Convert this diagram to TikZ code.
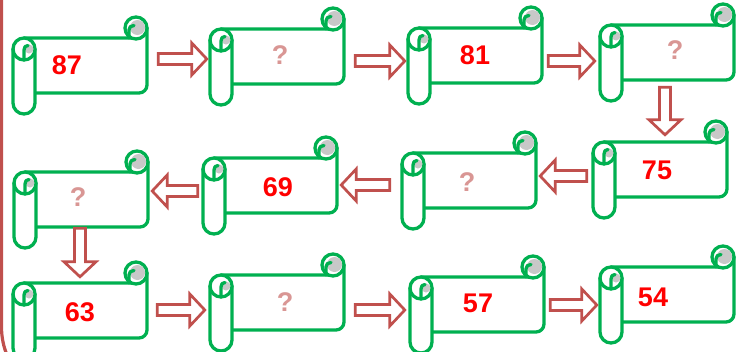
\documentclass[tikz,border=0pt]{standalone}
\usepackage{fontspec}
\setmainfont{Liberation Sans}
\usepackage{tikz}
\usetikzlibrary{calc}
\usepackage{xcolor}
\definecolor{scrollgreen}{RGB}{0,176,80}
\definecolor{scrollgray}{RGB}{200,200,200}
\definecolor{arrowred}{RGB}{192,80,77}
\definecolor{numred}{RGB}{255,0,0}
\definecolor{askpink}{RGB}{217,150,148}

\tikzset{blockarrow/.style={draw=arrowred, line width=2.7pt, fill=white, line join=miter,
  to path={let \p1=($(\tikztotarget)-(\tikztostart)$), \n1={atan2(\y1,\x1)}, \n2={veclen(\x1,\y1)} in
    ($(\tikztostart)+(\n1+90:5.5pt)$) -- ($(\tikztostart)+(\n1:\n2-15pt)+(\n1+90:5.5pt)$)
    -- ($(\tikztostart)+(\n1:\n2-15pt)+(\n1+90:16pt)$) -- (\tikztotarget)
    -- ($(\tikztostart)+(\n1:\n2-15pt)+(\n1-90:16pt)$) -- ($(\tikztostart)+(\n1:\n2-15pt)+(\n1-90:5.5pt)$)
    -- ($(\tikztostart)+(\n1-90:5.5pt)$) -- cycle}}}

% scroll: name, left, top
\newcommand{\scrollbox}[3]{%
  \begin{scope}[shift={(#2,#3)}]
    \draw[scroll, fill=white] (11,0) -- (123,0) -- (134,-10) -- (134,47)
      .. controls (134,51.4) and (130.4,55) .. (126,55) -- (11,55) -- cycle;
    \draw[scroll, fill=white] (123,-10) circle (11);
    \fill[scrollgray] (124.5,-10.5) circle (7.5);
    \draw[scroll] (116,0) -- (116,-8) .. controls (116,-11) and (118,-12.5) .. (121,-12.5);
    \draw[scroll, fill=white, rounded corners=11pt] (0,0) rectangle (22,76);
    \draw[scroll] (0,11) .. controls (0,17.1) and (4.9,22) .. (11,22) .. controls (17.1,22) and (22,17.1) .. (22,11);
    \fill[scrollgray] (16,11) circle (4.5);
    \draw[scroll] (11,22) -- (11,12) .. controls (11,9) and (12.5,7.5) .. (15,7.5);
    \node[inner sep=0, minimum width=134pt, minimum height=55pt] (#1) at (67,27.5) {};
  \end{scope}}

\begin{document}
\begin{tikzpicture}[x=1pt, y=-1pt]

  \tikzstyle{scroll}=[draw=scrollgreen, line width=3.3pt, line join=round, line cap=round]
  \tikzstyle{num}=[font=\fontsize{27}{30}\selectfont\bfseries, text=numred, inner sep=0]
  \tikzstyle{ask}=[font=\fontsize{27}{30}\selectfont\bfseries, text=askpink, inner sep=0]

  \useasboundingbox (0,0) rectangle (739,351);
  \clip (0,0) rectangle (739,351);

  % frame on the left
  \draw[arrowred, line width=3.2pt, rounded corners=74pt] (1.5,-5) -- (1.5,401) -- (300,401);

  \scrollbox{s1}{13}{38}
  \scrollbox{s2}{210}{29}
  \scrollbox{s3}{408}{28}
  \scrollbox{s4}{600}{25}
  \scrollbox{s5}{14}{172}
  \scrollbox{s6}{203}{158}
  \scrollbox{s7}{402}{153}
  \scrollbox{s8}{593}{142}
  \scrollbox{s9}{13}{283}
  \scrollbox{s10}{210}{275}
  \scrollbox{s11}{410}{277}
  \scrollbox{s12}{600}{267}

  \node[num] (t1) at (67,65) {87};
  \node[ask] (t2) at (280,55) {?};
  \node[num] (t3) at (475,55) {81};
  \node[ask] (t4) at (675,50) {?};
  \node[ask] (t5) at (78,197) {?};
  \node[num] (t6) at (278,187) {69};
  \node[ask] (t7) at (467,182) {?};
  \node[num] (t8) at (657,170) {75};
  \node[num] (t9) at (80,312) {63};
  \node[ask] (t10) at (285,302) {?};
  \node[num] (t11) at (478,303) {57};
  \node[num] (t12) at (653,297) {54};

  % arrows
  \draw[blockarrow] ([shift={(11,-6.5)}]s1.east) to ([shift={(-3,2.5)}]s2.west);
  \draw[blockarrow] ([shift={(11,4.5)}]s2.east) to ([shift={(-3,5.5)}]s3.west);
  \draw[blockarrow] ([shift={(6,5.5)}]s3.east) to ([shift={(-5,8.5)}]s4.west);
  \draw[blockarrow] ([shift={(-2,7)}]s4.south) to ([shift={(5,-7)}]s8.north);
  \draw[blockarrow] ([shift={(-6,6.5)}]s8.west) to ([shift={(4,-4.5)}]s7.east);
  \draw[blockarrow] ([shift={(-12,4.5)}]s7.west) to ([shift={(4,-0.5)}]s6.east);
  \draw[blockarrow] ([shift={(-5,5.5)}]s6.west) to ([shift={(4,-8.5)}]s5.east);
  \draw[blockarrow] ([shift={(-1,1)}]s5.south) to ([shift={(0,-6)}]s9.north);
  \draw[blockarrow] ([shift={(10,-0.5)}]s9.east) to ([shift={(-5,7.5)}]s10.west);
  \draw[blockarrow] ([shift={(11,7.5)}]s10.east) to ([shift={(-5,5.5)}]s11.west);
  \draw[blockarrow] ([shift={(6,0.5)}]s11.east) to ([shift={(-3,10.5)}]s12.west);

\end{tikzpicture}
\end{document}
